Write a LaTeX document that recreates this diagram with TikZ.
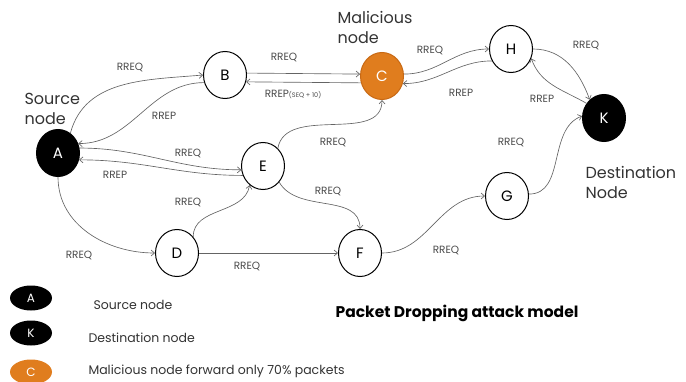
\documentclass[tikz,border=0pt]{standalone}
\usepackage{fontspec}
\setmainfont{Poppins}
\usetikzlibrary{arrows.meta,shapes.geometric}

\begin{document}
\begin{tikzpicture}[
  x=1pt, y=1pt,
  >={Straight Barb[length=3.5pt,width=6pt]},
  peer/.style={ellipse, draw=black, line width=1pt, fill=white, minimum width=43pt,
    minimum height=47pt, inner sep=0pt, font=\fontsize{15}{15}\selectfont},
  endpoint/.style={peer, fill=black, text=white},
  rogue/.style={peer, draw=roguedraw, fill=rogue, text=white},
  link/.style={->, draw=linkgray, line width=0.65pt},
  msg/.style={font=\fontsize{10.5}{10.5}\selectfont, text=msggray},
  caption/.style={font=\fontsize{16}{20}\selectfont, align=left, text=black!80, anchor=north west},
  legdot/.style={ellipse, minimum width=42pt, minimum height=25pt, inner sep=0pt,
    font=\fontsize{12}{12}\selectfont, text=white},
  legtext/.style={font=\fontsize{12.5}{13}\selectfont, anchor=west, text=black!80}
]

\definecolor{rogue}{RGB}{224,125,30}
\definecolor{roguedraw}{RGB}{200,105,20}
\definecolor{linkgray}{RGB}{100,100,100}
\definecolor{msggray}{RGB}{75,75,75}

\useasboundingbox (0,0) rectangle (686,381);

% nodes
\node[endpoint] (A) at (58,228) {A};
\node[peer]     (B) at (225,306) {B};
\node[rogue]    (C) at (382,305) {C};
\node[peer]     (D) at (177,128) {D};
\node[peer]     (E) at (263,215) {E};
\node[peer]     (F) at (360,128) {F};
\node[peer]     (G) at (507,185) {G};
\node[peer]     (H) at (511,332) {H};
\node[endpoint] (K) at (604,263) {K};

\node[caption] (srccap) at (21,291) {Source\\node};
\node[caption] (malcap) at (334,373) {Malicious\\node};
\node[caption] (dstcap) at (582,218) {Destination\\Node};

% links
\draw[link] (A.58) to[out=75, in=185] (B.west);
\draw[link] (B.200) to[out=180, in=0] (A.25);
\draw[link] (B.5) -- (C.175);
\draw[link] (C.198) -- (B.342);
\draw[link] (A.13) to[out=0, in=180] (E.190);
\draw[link] (E.205) to[out=180, in=0] (A.342);
\draw[link] (E.50) to[out=80, in=-90] (C.south);
\draw[link] (E.-45) to[out=-60, in=90] (F.north);
\draw[link] (A.south) to[out=-90, in=180] (D.west);
\draw[link] (D.45) to[out=90, in=-100] (E.235);
\draw[link] (D.east) -- (F.west);
\draw[link] (F.east) to[out=0, in=180] (G.west);
\draw[link] (G.5) to[out=0, in=200] (K.175);
\draw[link] (C.5) to[out=0, in=180] (H.west);
\draw[link] (H.212) to[out=180, in=0] (C.340);
\draw[link] (H.east) to[out=0, in=110] (K.128);
\draw[link] (K.140) to[out=150, in=-70] (H.-25);

% message labels
\node[msg] (lAB) at (130,314) {RREQ};
\node[msg] (lBA) at (164,265) {RREP};
\node[msg] (lBC) at (284,324) {RREQ};
\node[msg] (lCB) at (293,287) {RREP{\fontsize{6.5}{7}\selectfont(SEQ + 10)}};
\node[msg] (lAE) at (188,228) {RREQ};
\node[msg] (lEA) at (115,206) {RREP};
\node[msg] (lEC) at (333,239) {RREQ};
\node[msg] (lEF) at (328,190) {RREQ};
\node[msg] (lDE) at (188,179) {RREQ};
\node[msg] (lAD) at (79,126) {RREQ};
\node[msg] (lDF) at (247,115) {RREQ};
\node[msg] (lFG) at (446,131) {RREQ};
\node[msg] (lCH) at (430,331) {RREQ};
\node[msg] (lHC) at (461,288) {RREP};
\node[msg] (lHK) at (586,336) {RREQ};
\node[msg] (lKH) at (542,282) {RREP};
\node[msg] (lGK) at (511,239) {RREQ};

% legend
\node[legdot, fill=black] (legA) at (31,83) {A};
\node[legdot, fill=black] (legK) at (31,48) {K};
\node[legdot, fill=rogue] (legC) at (31,9) {C};
\node[legtext] (legAtxt) at (90,76) {Source node};
\node[legtext] (legKtxt) at (85,43) {Destination node};
\node[legtext] (legCtxt) at (85,10) {Malicious node forward only 70\% packets};

\node[font=\fontsize{15.5}{16}\selectfont\bfseries] (title) at (457,68) {Packet Dropping attack model};

\end{tikzpicture}
\end{document}
